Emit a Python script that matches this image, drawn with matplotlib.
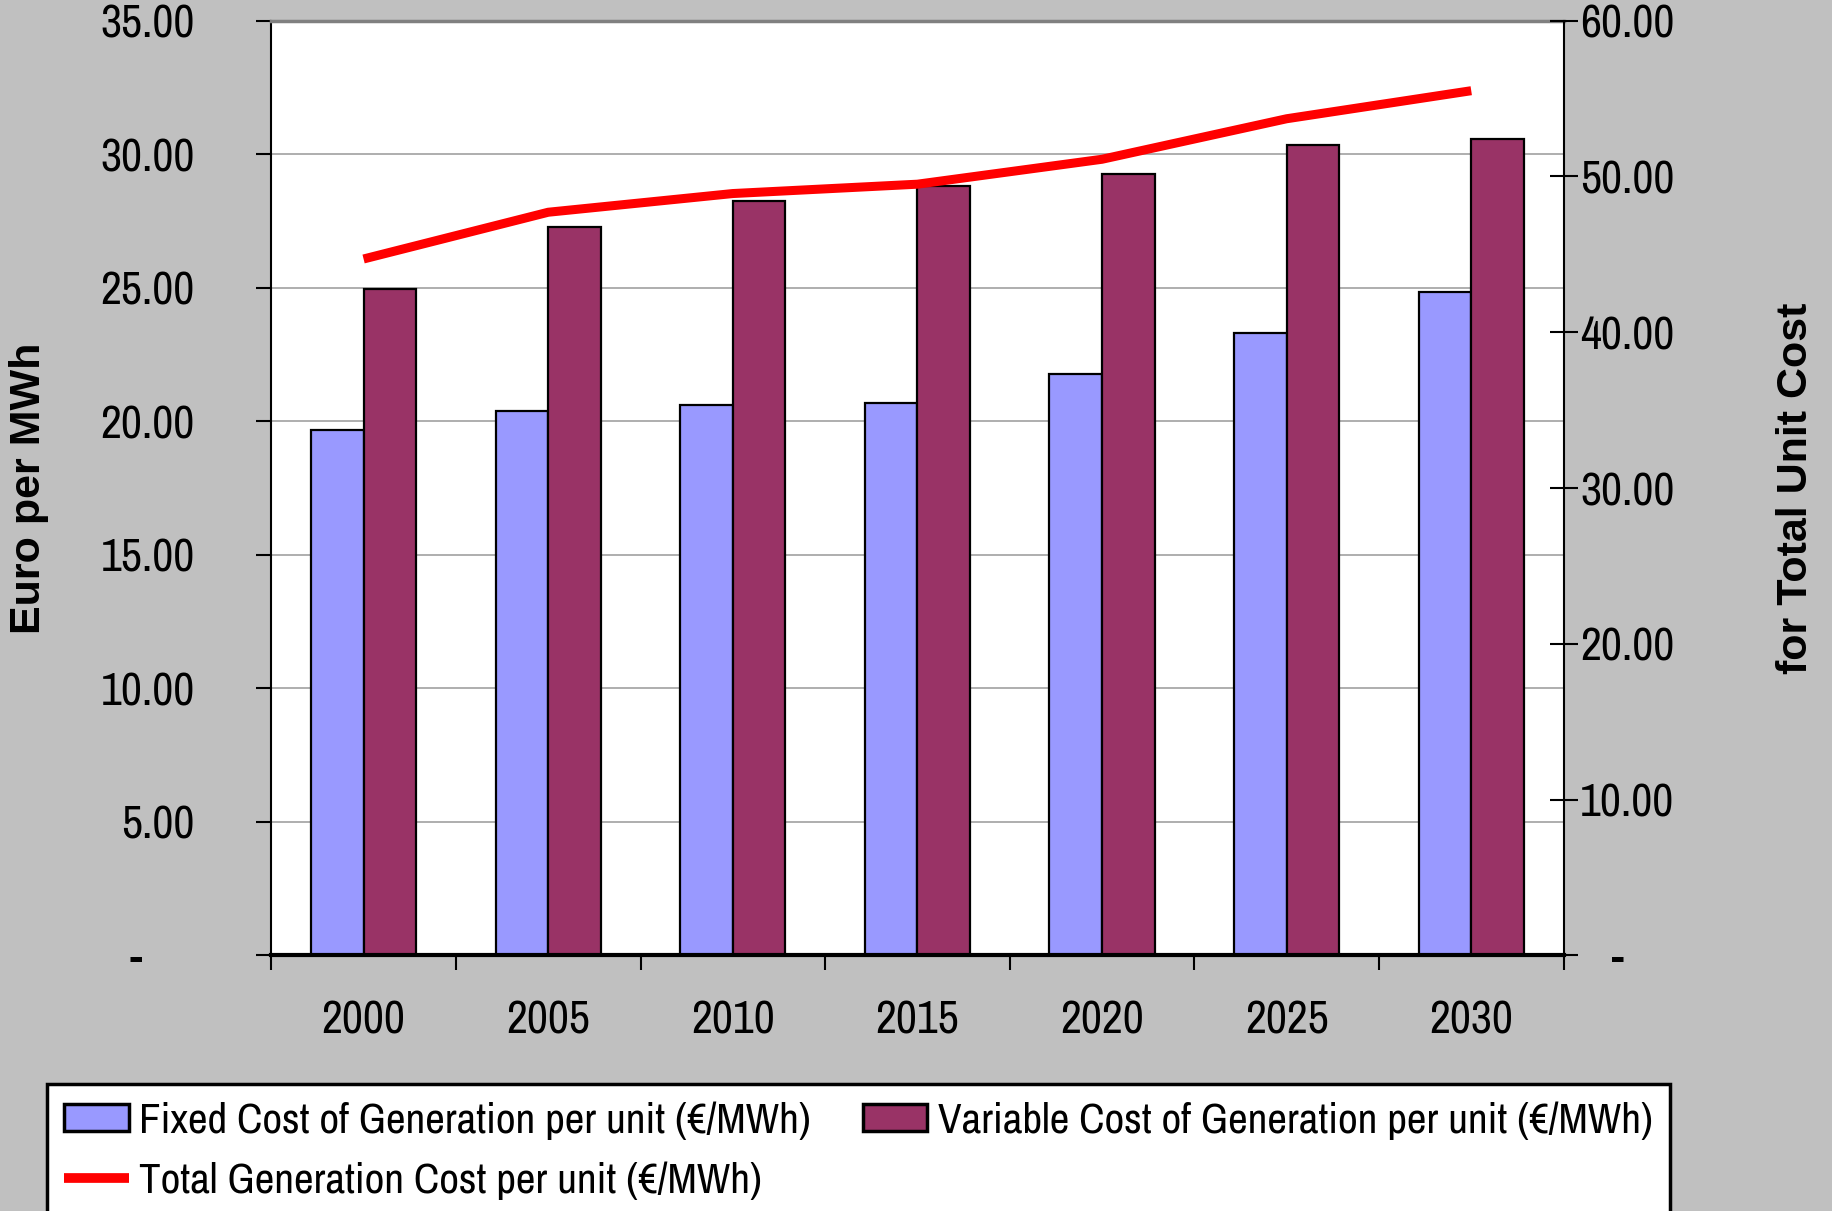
import matplotlib
matplotlib.use('Agg')  # no display
import matplotlib.pyplot as plt
import numpy as np
from matplotlib import font_manager
from matplotlib.patches import Patch
from matplotlib.lines import Line2D
from matplotlib.ticker import FuncFormatter

# ─────────────────────────────────────────────────────────────────
# Data
# ─────────────────────────────────────────────────────────────────
years = ['2000', '2005', '2010', '2015', '2020', '2025', '2030']
fixed_cost = [19.67, 20.37, 20.59, 20.67, 21.77, 23.30, 24.84]
variable_cost = [24.97, 27.29, 28.25, 28.82, 29.26, 30.35, 30.57]
total_cost = [44.7, 47.7, 48.9, 49.5, 51.1, 53.7, 55.5]

left_ticks = [0, 5, 10, 15, 20, 25, 30, 35]
right_ticks = [0, 10, 20, 30, 40, 50, 60]

FIXED_COLOR = '#9999FF'
VAR_COLOR = '#993366'
LINE_COLOR = '#FF0000'
BG = '#C0C0C0'

# Condensed Arial look-alike if available
names = {f.name for f in font_manager.fontManager.ttflist}
if 'Archivo Narrow' in names:
    NARROW, SCALE = 'Archivo Narrow', 1.0
else:
    NARROW, SCALE = 'Liberation Sans', 0.84
BOLD_FONT = 'Liberation Sans'

TICK_FS = 33 * SCALE
LEGEND_FS = 31 * SCALE

# ─────────────────────────────────────────────────────────────────
# Figure
# ─────────────────────────────────────────────────────────────────
fig = plt.figure(figsize=(18.33, 12.11), dpi=100)
fig.patch.set_facecolor(BG)
ax = fig.add_axes([0.148, 0.211, 0.705, 0.772])
ax.set_facecolor('white')
ax2 = ax.twinx()

x = np.arange(len(years))
w = 0.285
ax.bar(x - w / 2, fixed_cost, w, color=FIXED_COLOR, edgecolor='black', linewidth=1.6, zorder=2)
ax.bar(x + w / 2, variable_cost, w, color=VAR_COLOR, edgecolor='black', linewidth=1.6, zorder=2)
ax2.plot(x, total_cost, color=LINE_COLOR, linewidth=6.5, solid_capstyle='butt', solid_joinstyle='round')

# left axis
ax.set_ylim(0, 35)
ax.set_yticks(left_ticks)
ax.yaxis.set_major_formatter(FuncFormatter(lambda v, p: '-     ' if v == 0 else f'{v:.2f}'))
ax.yaxis.grid(True, color='#A8A8A8', linewidth=1.3)
ax.set_axisbelow(True)
ax.tick_params(axis='y', direction='out', length=11, width=1.5, pad=44, labelsize=TICK_FS)

# right axis
ax2.set_ylim(0, 60)
ax2.set_yticks(right_ticks)
ax2.yaxis.set_major_formatter(FuncFormatter(lambda v, p: '   -' if v == 0 else f'{v:.2f}'))
ax2.tick_params(axis='y', direction='inout', length=20, width=1.5, pad=2, labelsize=TICK_FS)

# x axis: ticks on category boundaries, labels centred
ax.set_xlim(-0.5, len(years) - 0.5)
ax.set_xticks(np.arange(-0.5, len(years), 1.0))
ax.set_xticklabels([])
ax.set_xticks(x, minor=True)
ax.set_xticklabels(years, minor=True)
ax.tick_params(axis='x', which='major', direction='out', length=11, width=1.5)
ax.tick_params(axis='x', which='minor', length=0, pad=32, labelsize=TICK_FS)

for lab in ax.get_yticklabels() + ax2.get_yticklabels() + ax.get_xticklabels(minor=True):
    lab.set_fontfamily([NARROW, 'DejaVu Sans'])

# spines
ax.spines['top'].set_color('#808080')
ax.spines['top'].set_linewidth(2.5)
ax.spines['left'].set_linewidth(1.5)
ax.spines['bottom'].set_linewidth(3)
ax.spines['right'].set_visible(False)
for s in ['top', 'left', 'bottom']:
    ax2.spines[s].set_visible(False)
ax2.spines['right'].set_linewidth(1.5)

# axis titles
fig.text(0.016, 0.597, 'Euro per MWh', rotation=90, ha='center', va='center',
         fontsize=31, fontweight='bold', family=BOLD_FONT)
fig.text(0.980, 0.597, 'for Total Unit Cost', rotation=90, ha='center', va='center',
         fontsize=31, fontweight='bold', family=BOLD_FONT)

# legend (column-major order -> row1: fixed, variable; row2: total)
handles = [
    Patch(facecolor=FIXED_COLOR, edgecolor='black', linewidth=2.5),
    Line2D([0], [0], color=LINE_COLOR, linewidth=7, solid_capstyle='butt'),
    Patch(facecolor=VAR_COLOR, edgecolor='black', linewidth=2.5),
]
labels = [
    'Fixed Cost of Generation per unit (€/MWh)',
    'Total Generation Cost per unit (€/MWh)',
    'Variable Cost of Generation per unit (€/MWh)',
]
leg = fig.legend(handles, labels, ncol=2, loc='upper left', bbox_to_anchor=(0.0256, 0.105),
                 frameon=True, fancybox=False, edgecolor='black', facecolor='white', framealpha=1,
                 borderaxespad=0, borderpad=0.4, handlelength=1.5, handleheight=0.6,
                 handletextpad=0.25, columnspacing=1.2, labelspacing=0.5,
                 prop={'family': [NARROW, 'DejaVu Sans'], 'size': LEGEND_FS})
leg.get_frame().set_linewidth(2.5)

plt.savefig('out.png', dpi=100, facecolor=BG)
